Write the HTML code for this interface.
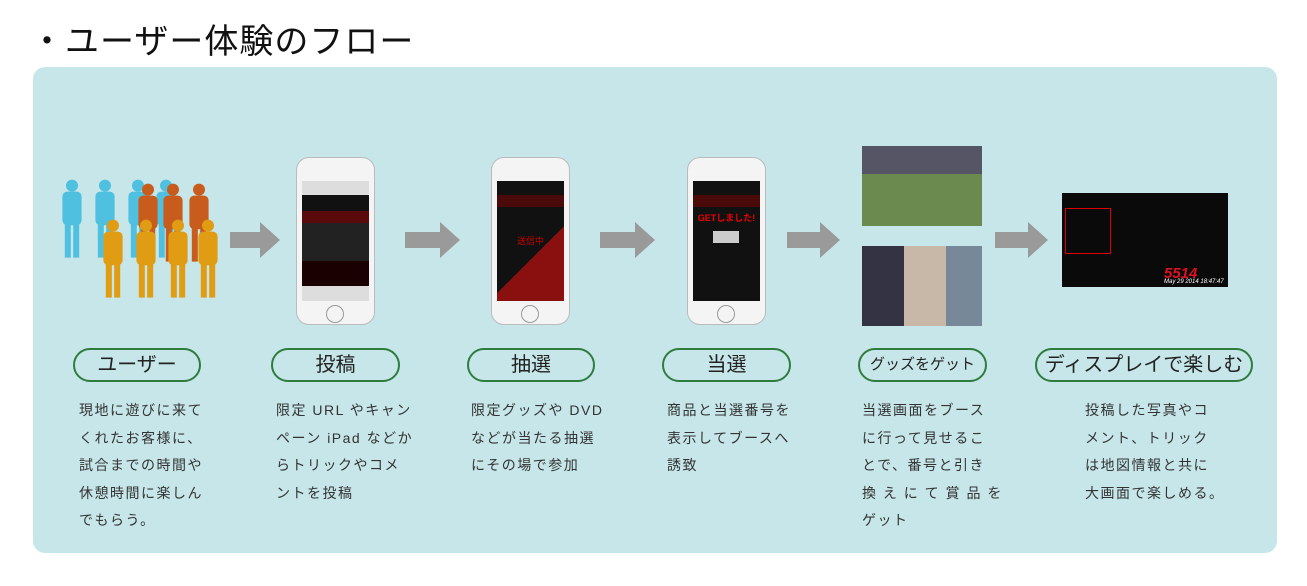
<!DOCTYPE html>
<html><head><meta charset="utf-8"><style>
body{margin:0;width:1307px;height:586px;background:#fff;position:relative;overflow:hidden;font-family:"Liberation Sans","Noto Sans CJK JP",sans-serif}
.t{position:absolute;left:30px;top:14px;font-size:34px;color:#111;letter-spacing:1px}
.panel{position:absolute;left:33px;top:67px;width:1244px;height:486px;background:#c7e6e9;border-radius:12px}
.pill{position:absolute;top:348px;height:30px;border:2px solid #2e7d3e;border-radius:17px;text-align:center;line-height:30px;font-size:20px;color:#222}
.d{position:absolute;top:397px;font-size:14px;line-height:27.5px;color:#333;letter-spacing:1.5px;white-space:pre}
.phone{position:absolute;top:157px;width:79px;height:168px;background:#f4f4f4;border:1px solid #bbb;border-radius:13px;box-sizing:border-box}
.scr{position:absolute;left:5px;top:23px;width:67px;height:120px;background:#111}
.btn{position:absolute;left:29px;top:147px;width:18px;height:18px;border:1px solid #999;border-radius:50%;box-sizing:border-box}
.photo{position:absolute;left:862px;width:120px;height:80px}
</style></head><body>
<div class="t">・ユーザー体験のフロー</div>
<div class="panel"></div>
<svg style="position:absolute;left:0;top:0" width="1307" height="586">
<defs><g id="p" transform="scale(1.2)"><circle cx="0" cy="-27" r="5"/><rect x="-8" y="-22" width="16" height="28" rx="4"/><rect x="-6" y="5" width="5" height="28"/><rect x="1" y="5" width="5" height="28"/></g></defs>
<g fill="#4fc0df"><use href="#p" x="72" y="218"/><use href="#p" x="105" y="218"/><use href="#p" x="138" y="218"/><use href="#p" x="166" y="218"/></g>
<g fill="#c85c1c"><use href="#p" x="148" y="222"/><use href="#p" x="173" y="222"/><use href="#p" x="199" y="222"/></g>
<g fill="#e09c12"><use href="#p" x="113" y="258"/><use href="#p" x="146" y="258"/><use href="#p" x="178" y="258"/><use href="#p" x="208" y="258"/></g>
<g fill="#9a9a9a">
<polygon points="230,232 260,232 260,222 280,240 260,258 260,248 230,248"/>
<polygon points="405,232 440,232 440,222 460,240 440,258 440,248 405,248"/>
<polygon points="600,232 635,232 635,222 655,240 635,258 635,248 600,248"/>
<polygon points="787,232 820,232 820,222 840,240 820,258 820,248 787,248"/>
<polygon points="995,232 1028,232 1028,222 1048,240 1028,258 1028,248 995,248"/>
</g>
</svg>
<div class="phone" style="left:296px"><div class="scr" style="background:linear-gradient(#ddd 0 14px,#111 14px 30px,#5a0a0a 30px 42px,#222 42px 80px,#1a0000 80px 105px,#ddd 105px)"></div><div class="btn"></div></div>
<div class="phone" style="left:491px"><div class="scr" style="background:linear-gradient(#111 0 14px,#4a0a0a 14px 26px,transparent 26px),linear-gradient(135deg,#111 60%,#8a1010 60%)"><div style="position:absolute;top:53px;width:100%;text-align:center;color:#c00;font-size:9px">送信中</div></div><div class="btn"></div></div>
<div class="phone" style="left:687px"><div class="scr" style="background:linear-gradient(#111 0 14px,#4a0a0a 14px 26px,#111 26px)"><div style="position:absolute;top:30px;width:100%;text-align:center;color:#e00;font-size:9px;font-weight:bold">GETしました!</div><div style="position:absolute;left:20px;top:50px;width:26px;height:12px;background:#ccc"></div></div><div class="btn"></div></div>
<div class="photo" style="top:146px;background:linear-gradient(#556 0 35%,#6a8a50 35%)"></div>
<div class="photo" style="top:246px;background:linear-gradient(90deg,#334 0 35%,#c8b8a8 35% 70%,#789 70%)"></div>
<div style="position:absolute;left:1062px;top:193px;width:166px;height:94px;background:#0a0a0a"><div style="position:absolute;left:3px;top:15px;width:44px;height:44px;border:1px solid #d00"></div><div style="position:absolute;left:102px;top:72px;color:#e01020;font-size:15px;font-weight:bold;font-style:italic">5514</div><div style="position:absolute;left:102px;top:86px;color:#fff;font-size:6px;font-style:italic">May 29 2014 18:47:47</div></div>
<div class="pill" style="left:73px;width:124px">ユーザー</div>
<div class="pill" style="left:271px;width:125px">投稿</div>
<div class="pill" style="left:467px;width:124px">抽選</div>
<div class="pill" style="left:662px;width:125px">当選</div>
<div class="pill" style="left:858px;width:125px;font-size:15px">グッズをゲット</div>
<div class="pill" style="left:1035px;width:214px">ディスプレイで楽しむ</div>
<div class="d" style="left:79px">現地に遊びに来て
くれたお客様に、
試合までの時間や
休憩時間に楽しん
でもらう。</div>
<div class="d" style="left:276px">限定 URL やキャン
ペーン iPad などか
らトリックやコメ
ントを投稿</div>
<div class="d" style="left:471px">限定グッズや DVD
などが当たる抽選
にその場で参加</div>
<div class="d" style="left:667px">商品と当選番号を
表示してブースへ
誘致</div>
<div class="d" style="left:862px">当選画面をブース
に行って見せるこ
とで、番号と引き
換 え に て 賞 品 を
ゲット</div>
<div class="d" style="left:1085px">投稿した写真やコ
メント、トリック
は地図情報と共に
大画面で楽しめる。</div>
</body></html>
